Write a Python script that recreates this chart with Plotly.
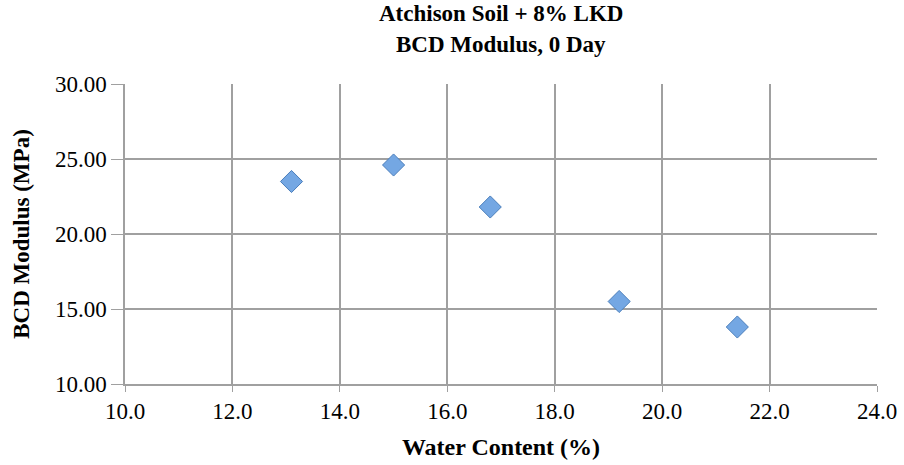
import plotly.graph_objects as go

water_content = [13.1, 15.0, 16.8, 19.2, 21.4]
bcd_modulus = [23.5, 24.6, 21.8, 15.5, 13.8]

x_ticks = [10, 12, 14, 16, 18, 20, 22, 24]
y_ticks = [10, 15, 20, 25, 30]

title_lines = ["Atchison Soil + 8% LKD", "BCD Modulus, 0 Day"]

fig = go.Figure()
fig.add_trace(go.Scatter(
    x=water_content, y=bcd_modulus, mode="markers",
    marker=dict(symbol="diamond", size=17, color="#74a7e3",
                line=dict(color="#4a7ebb", width=1)),
    showlegend=False,
))

font = "Liberation Serif, Times New Roman, serif"
W, H = 904, 465
L, R, T, B = 125, 27, 84, 81
plot_h = H - T - B
fig.update_layout(
    width=W, height=H,
    margin=dict(l=L, r=R, t=T, b=B, autoexpand=False),
    paper_bgcolor="white", plot_bgcolor="white",
    font=dict(family=font, color="#000"),
)
for i, line in enumerate(title_lines):
    fig.add_annotation(
        text=f"<b>{line}</b>", xref="paper", yref="paper",
        x=0.5, xanchor="center",
        y=1 + (T - 14 - 30 * i) / plot_h, yanchor="middle",
        showarrow=False, font=dict(size=23, family=font),
    )
fig.update_xaxes(
    range=[10, 24], tickvals=x_ticks,
    ticktext=[f"{v:.1f}" for v in x_ticks],
    showgrid=True, gridcolor="#a0a0a0", gridwidth=1.5,
    showline=True, linecolor="#a0a0a0", linewidth=1.5,
    ticks="outside", ticklen=6, tickcolor="#a0a0a0",
    tickfont=dict(size=23), zeroline=False, automargin=False,
    ticklabeloverflow="allow",
    title=dict(text="<b>Water Content (%)</b>", font=dict(size=24), standoff=15),
)
fig.update_yaxes(
    range=[10, 30], tickvals=y_ticks,
    ticktext=[f"{v:.2f}" for v in y_ticks],
    showgrid=True, gridcolor="#a0a0a0", gridwidth=1.5,
    showline=True, linecolor="#a0a0a0", linewidth=1.5,
    ticks="outside", ticklen=12, tickcolor="#a0a0a0",
    tickfont=dict(size=23), zeroline=False, automargin=False,
    title=dict(text="<b>BCD Modulus (MPa)</b>", font=dict(size=23), standoff=19),
)

fig.write_html("out.html", config={"displayModeBar": False},
               post_script="document.body.style.margin='0';")
